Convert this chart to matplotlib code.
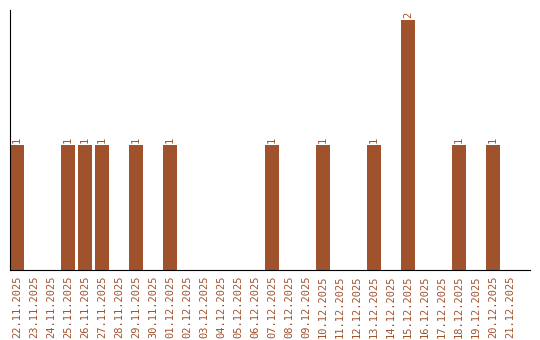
import matplotlib
matplotlib.use("Agg")
import matplotlib.pyplot as plt
import numpy as np

dates = ["22.11.2025", "23.11.2025", "24.11.2025", "25.11.2025", "26.11.2025",
         "27.11.2025", "28.11.2025", "29.11.2025", "30.11.2025", "01.12.2025",
         "02.12.2025", "03.12.2025", "04.12.2025", "05.12.2025", "06.12.2025",
         "07.12.2025", "08.12.2025", "09.12.2025", "10.12.2025", "11.12.2025",
         "12.12.2025", "13.12.2025", "14.12.2025", "15.12.2025", "16.12.2025",
         "17.12.2025", "18.12.2025", "19.12.2025", "20.12.2025", "21.12.2025"]
counts = [1, 0, 0, 1, 1, 1, 0, 1, 0, 1,
          0, 0, 0, 0, 0, 1, 0, 0, 1, 0,
          0, 1, 0, 2, 0, 0, 1, 0, 1, 0]

col = "#A0522D"
fnt = "DejaVu Sans Mono"

fig = plt.figure(figsize=(5.4, 3.4), dpi=100)
ax = fig.add_axes([10/540, 70/340, 520/540, 260/340])

x = np.arange(len(dates))
ax.bar(x, counts, width=0.82, color=col)
for xi, c in zip(x, counts):
    if c > 0:
        ax.text(xi, c + 0.02, str(c), rotation=90, ha="center", va="bottom",
                color=col, fontsize=7.5, family=fnt)

ax.set_xlim(-0.41, 30.18)
ax.set_ylim(0, 2.08)
ax.set_xticks(x)
ax.set_xticklabels(dates, rotation=90, color=col, fontsize=7.5, family=fnt)
ax.tick_params(axis="x", length=0, pad=4)
ax.set_yticks([])
ax.spines["top"].set_visible(False)
ax.spines["right"].set_visible(False)

fig.savefig("out.png", dpi=100)
